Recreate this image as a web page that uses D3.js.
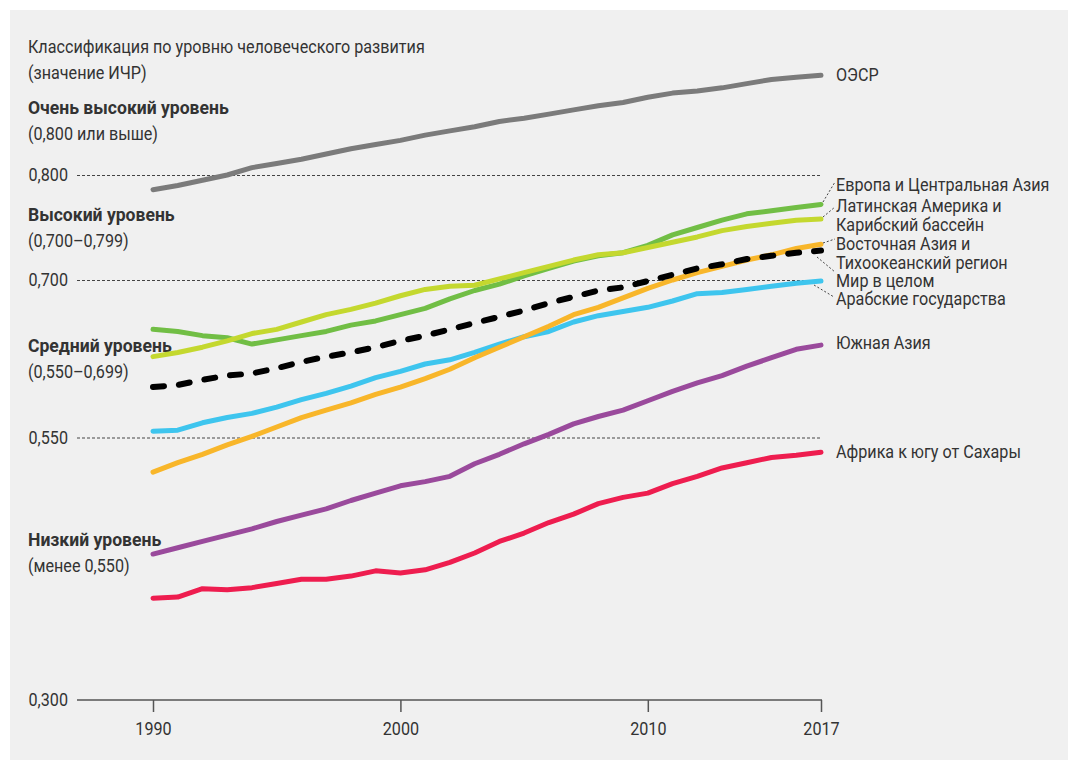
<!DOCTYPE html>
<html>
<head>
<meta charset="utf-8">
<script src="https://cdn.jsdelivr.net/npm/d3@7"></script>
<style>
  body { margin: 0; background: #fff; }
  svg text { font-family: "Roboto", "Liberation Sans", sans-serif; fill: #333; }
</style>
</head>
<body>
<div id="chart"></div>
<script>
var years = d3.range(1990, 2018);

var oecd   = [0.786, 0.790, 0.795, 0.800, 0.807, 0.811, 0.815, 0.820, 0.825, 0.829, 0.833, 0.838, 0.842, 0.846, 0.851, 0.854, 0.858, 0.862, 0.866, 0.869, 0.874, 0.878, 0.880, 0.883, 0.887, 0.891, 0.893, 0.895];
var europe = [0.653, 0.651, 0.647, 0.645, 0.639, 0.643, 0.647, 0.651, 0.657, 0.661, 0.667, 0.673, 0.682, 0.690, 0.696, 0.704, 0.711, 0.718, 0.723, 0.726, 0.733, 0.743, 0.750, 0.757, 0.763, 0.766, 0.769, 0.772];
var latin  = [0.627, 0.631, 0.636, 0.642, 0.649, 0.653, 0.660, 0.667, 0.672, 0.678, 0.685, 0.691, 0.694, 0.695, 0.701, 0.707, 0.713, 0.719, 0.724, 0.726, 0.731, 0.736, 0.741, 0.747, 0.751, 0.754, 0.757, 0.758];
var eastAsia = [0.517, 0.526, 0.534, 0.543, 0.551, 0.560, 0.569, 0.576, 0.583, 0.591, 0.598, 0.606, 0.615, 0.626, 0.636, 0.646, 0.656, 0.667, 0.674, 0.683, 0.692, 0.700, 0.707, 0.713, 0.719, 0.724, 0.730, 0.734];
var world  = [0.598, 0.600, 0.605, 0.609, 0.611, 0.616, 0.622, 0.627, 0.631, 0.636, 0.642, 0.647, 0.653, 0.659, 0.665, 0.671, 0.678, 0.684, 0.690, 0.693, 0.699, 0.705, 0.711, 0.715, 0.720, 0.723, 0.726, 0.728];
var arab   = [0.556, 0.557, 0.564, 0.569, 0.573, 0.579, 0.586, 0.592, 0.599, 0.607, 0.613, 0.620, 0.624, 0.631, 0.639, 0.646, 0.651, 0.660, 0.666, 0.670, 0.674, 0.680, 0.687, 0.688, 0.691, 0.694, 0.697, 0.699];
var southAsia = [0.439, 0.445, 0.451, 0.457, 0.463, 0.470, 0.476, 0.482, 0.490, 0.497, 0.504, 0.508, 0.513, 0.525, 0.534, 0.544, 0.553, 0.563, 0.570, 0.576, 0.585, 0.594, 0.602, 0.609, 0.618, 0.626, 0.634, 0.638];
var africa = [0.397, 0.398, 0.406, 0.405, 0.407, 0.411, 0.415, 0.415, 0.418, 0.423, 0.421, 0.424, 0.431, 0.440, 0.451, 0.459, 0.469, 0.477, 0.487, 0.493, 0.497, 0.506, 0.513, 0.521, 0.526, 0.531, 0.533, 0.536];

var seriesNames = ["ОЭСР", "Африка к югу от Сахары", "Южная Азия", "Арабские государства",
                   "Европа и Центральная Азия", "Латинская Америка и Карибский бассейн",
                   "Восточная Азия и Тихоокеанский регион", "Мир в целом"];
var seriesValues = [oecd, africa, southAsia, arab, europe, latin, eastAsia, world];
var seriesColors = ["#7b7b7b", "#ee1d4f", "#9a4a9c", "#3ec5ee", "#71be45", "#c4d82f", "#f8b62a", "#000000"];

var gridTicks = [0.800, 0.700, 0.550];
var xTicks = [1990, 2000, 2010, 2017];

var levelNames  = ["Очень высокий уровень", "Высокий уровень", "Средний уровень", "Низкий уровень"];
var levelRanges = ["(0,800 или выше)", "(0,700–0,799)", "(0,550–0,699)", "(менее 0,550)"];

var width = 1068, height = 760;
var fontSize = "18px";

var svg = d3.select("#chart").append("svg")
  .attr("width", width)
  .attr("height", height);

svg.append("rect")
  .attr("x", 10).attr("y", 10)
  .attr("width", width - 10).attr("height", height - 10)
  .attr("fill", "#f0f0f0");

var x = d3.scaleLinear().domain([1990, 2017]).range([153, 821]);
var y = d3.scaleLinear().domain([0.3, 0.8]).range([700, 175]);

var ru = d3.formatLocale({decimal: ",", thousands: " ", grouping: [3], currency: ["", ""]});
var fmt = ru.format(".3f");

var left = 77;

// dashed guide lines for level limits
var yAxis = svg.append("g")
  .attr("transform", "translate(" + left + ",0)")
  .call(d3.axisLeft(y).tickValues(gridTicks.concat([0.3])).tickFormat(fmt)
        .tickSize(-(x(2017) + 1 - left)).tickPadding(9));
yAxis.select(".domain").remove();
yAxis.selectAll(".tick line")
  .attr("stroke", "#444")
  .attr("stroke-width", 1)
  .attr("stroke-dasharray", "3,2")
  .attr("display", function(d) { return d === 0.3 ? "none" : null; });
yAxis.selectAll(".tick text")
  .attr("fill", "#333")
  .style("font-size", fontSize);

// x axis
svg.append("line")
  .attr("x1", left).attr("x2", x(2017) + 1)
  .attr("y1", y(0.3)).attr("y2", y(0.3))
  .attr("stroke", "#555").attr("stroke-width", 1.5);

var xAxis = svg.append("g")
  .attr("transform", "translate(0," + y(0.3) + ")")
  .call(d3.axisBottom(x).tickValues(xTicks).tickFormat(d3.format("d")).tickSize(12).tickPadding(10));
xAxis.select(".domain").remove();
xAxis.selectAll(".tick line").attr("stroke", "#555").attr("stroke-width", 1.5);
xAxis.selectAll(".tick text").attr("fill", "#333").style("font-size", fontSize);
svg.selectAll("g").attr("font-family", null);

// heading texts
var head = svg.append("text").attr("class", "title").attr("x", 28).attr("y", 53).style("font-size", fontSize);
head.append("tspan").attr("x", 28).text("Классификация по уровню человеческого развития");
head.append("tspan").attr("x", 28).attr("dy", 26).text("(значение ИЧР)");

var levelY = [114, 221, 352, 546];
levelNames.forEach(function(n, i) {
  svg.append("text").attr("class", "bold").attr("x", 28).attr("y", levelY[i])
    .style("font-size", fontSize).style("font-weight", "bold").attr("fill", "#222").text(n);
  svg.append("text").attr("x", 28).attr("y", levelY[i] + 26)
    .style("font-size", fontSize).text(levelRanges[i]);
});

// lines
var line = d3.line()
  .x(function(d, i) { return x(years[i]); })
  .y(function(d) { return y(d); });

svg.selectAll("path.series")
  .data(seriesValues)
  .enter()
  .append("path")
    .attr("class", "series")
    .attr("d", function(d) { return line(d); })
    .attr("fill", "none")
    .attr("stroke", function(d, i) { return seriesColors[i]; })
    .attr("stroke-width", function(d, i) { return i === 7 ? 6 : 5; })
    .attr("stroke-dasharray", function(d, i) { return i === 7 ? "11,15" : null; })
    .attr("stroke-linecap", "round")
    .attr("stroke-linejoin", "round");

// right-side labels
var labelX = 836;
var labels = [
  {lines: ["ОЭСР"], y: 81},
  {lines: ["Африка к югу от Сахары"], y: 458},
  {lines: ["Южная Азия"], y: 349},
  {lines: ["Арабские государства"], y: 305, lead: [814, 285, 834, 297]},
  {lines: ["Европа и Центральная Азия"], y: 191, lead: [823, 202, 835, 182]},
  {lines: ["Латинская Америка и", "Карибский бассейн"], y: 212, lead: [823, 217, 835, 207]},
  {lines: ["Восточная Азия и", "Тихоокеанский регион"], y: 250, lead: [823, 243, 835, 239]},
  {lines: ["Мир в целом"], y: 287, lead: [817, 257, 835, 272]}
];

labels.forEach(function(l) {
  var t = svg.append("text").attr("x", labelX).attr("y", l.y).style("font-size", fontSize);
  l.lines.forEach(function(s, j) {
    t.append("tspan").attr("x", labelX).attr("dy", j ? 19 : 0).text(s);
  });
  if (l.lead) {
    svg.append("line")
      .attr("x1", l.lead[0]).attr("y1", l.lead[1])
      .attr("x2", l.lead[2]).attr("y2", l.lead[3])
      .attr("stroke", "#444").attr("stroke-width", 1)
      .attr("stroke-dasharray", "2,2");
  }
});

// the original uses a condensed face; squeeze the available one to the same width
var titleWidth = head.select("tspan").node().getComputedTextLength();
var kReg = 397 / titleWidth;
var kBold = 201 / svg.select("text.bold").node().getComputedTextLength();

svg.selectAll("text").each(function() {
  var el = d3.select(this);
  var k = el.classed("bold") ? kBold : kReg;
  var tx = +el.attr("x") || 0;
  el.attr("transform", "translate(" + tx + ",0) scale(" + k + ",1) translate(" + (-tx) + ",0)");
});
</script>
</body>
</html>
